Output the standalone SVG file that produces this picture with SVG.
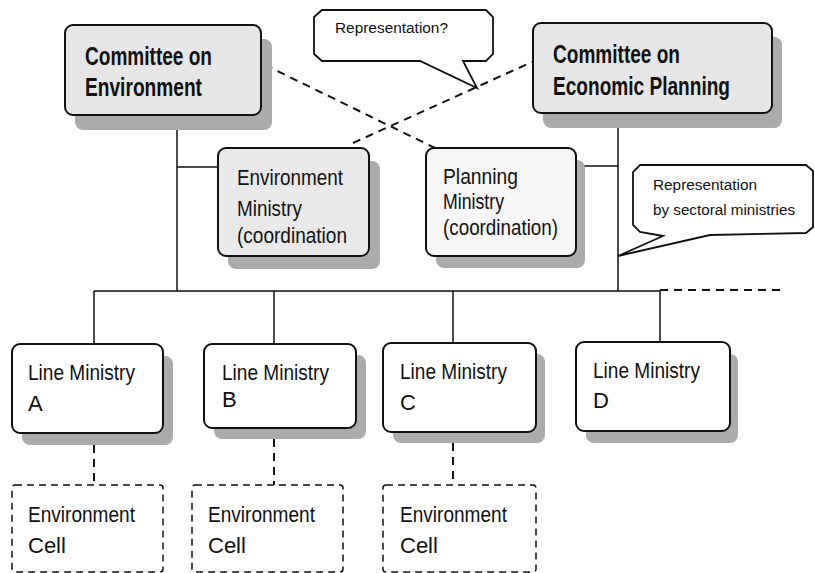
<svg xmlns="http://www.w3.org/2000/svg" width="815" height="573" viewBox="0 0 815 573">
<style>
text{font-family:"Liberation Sans",Arial,sans-serif;fill:#111}
.cm{font-size:25px;font-weight:bold}
.md{font-size:22px}
.sm{font-size:14px}
.sh{fill:#ababab}
.box{stroke:#111;stroke-width:2}
.ln{stroke:#111;stroke-width:1.5;fill:none}
.dl{stroke:#111;stroke-width:2;fill:none;stroke-dasharray:8 6}
.dc{stroke:#111;stroke-width:1.5;fill:#fff;stroke-dasharray:7 5}
</style>
<rect width="815" height="573" fill="#fff"/>
<g id="connectors">
<path class="ln" d="M177,115 L177,291 M177,167 L218,167 M618,113 L618,291 M576,166 L618,166 M94,291 L660,291 M94,291 L94,344 M274,291 L274,344 M453,291 L453,343 M660,291 L660,342"/>
<path class="dl" d="M660,290 L785,290" stroke-width="1.5"/>
<path class="dl" d="M265,65 L435,148 M353,143 L532,62"/>
<path class="dl" d="M94,445 L94,485 M274,439 L274,485 M453,443 L453,485" stroke-width="1.5"/>
</g>
<g id="committee-env">
<rect class="sh" x="75" y="39" width="197" height="91" rx="8"/>
<rect class="box" x="65" y="25" width="196" height="90" rx="8" fill="#e6e6e6" stroke-width="3.5"/>
<text class="cm" x="85" y="65" textLength="127" lengthAdjust="spacingAndGlyphs">Committee on</text>
<text class="cm" x="85" y="96" textLength="117" lengthAdjust="spacingAndGlyphs">Environment</text>
</g>
<g id="committee-econ">
<rect class="sh" x="543" y="37" width="239" height="91" rx="8"/>
<rect class="box" x="533" y="23" width="239" height="90" rx="8" fill="#e6e6e6" stroke-width="3.5"/>
<text class="cm" x="553" y="63" textLength="127" lengthAdjust="spacingAndGlyphs">Committee on</text>
<text class="cm" x="553" y="95" textLength="177" lengthAdjust="spacingAndGlyphs">Economic Planning</text>
</g>
<g id="env-ministry">
<rect class="sh" x="228" y="161" width="152" height="108" rx="8"/>
<rect class="box" x="218" y="148" width="151" height="108" rx="8" fill="#e9e9e9" stroke-width="2.5"/>
<text class="md" x="237" y="185" textLength="106" lengthAdjust="spacingAndGlyphs">Environment</text>
<text class="md" x="237" y="216" textLength="65" lengthAdjust="spacingAndGlyphs">Ministry</text>
<text class="md" x="237" y="243" textLength="110" lengthAdjust="spacingAndGlyphs">(coordination</text>
</g>
<g id="planning-ministry">
<rect class="sh" x="436" y="160" width="149" height="108" rx="8"/>
<rect class="box" x="426" y="148" width="150" height="108" rx="8" fill="#f6f6f6" stroke-width="1.5"/>
<text class="md" x="443" y="184" textLength="75" lengthAdjust="spacingAndGlyphs">Planning</text>
<text class="md" x="443" y="209" textLength="61" lengthAdjust="spacingAndGlyphs">Ministry</text>
<text class="md" x="443" y="235" textLength="115" lengthAdjust="spacingAndGlyphs">(coordination)</text>
</g>
<g id="callout-representation">
<path d="M322,10 L486,10 L493,17 L493,54 L486,61 L463,61 L477,88 L420,61 L322,61 L314,54 L314,17 Z" fill="#fff" stroke="#111" stroke-width="1.8"/>
<text class="sm" x="335" y="33" textLength="113" lengthAdjust="spacingAndGlyphs">Representation?</text>
</g>
<g id="callout-sectoral">
<path d="M640,165 L806,165 L813,171 L813,227 L806,233 L710,235 L618,256 L663,236 L640,232 L633,225 L633,172 Z" fill="#fff" stroke="#111" stroke-width="1.8"/>
<text class="sm" x="653" y="190" textLength="104" lengthAdjust="spacingAndGlyphs">Representation</text>
<text class="sm" x="653" y="215" textLength="142" lengthAdjust="spacingAndGlyphs">by sectoral ministries</text>
</g>
<g id="line-ministry-a">
<rect class="sh" x="22" y="356" width="151" height="89" rx="8"/>
<rect class="box" x="12" y="344" width="151" height="89" rx="8" fill="#fff"/>
<text class="md" x="28" y="380" textLength="107" lengthAdjust="spacingAndGlyphs">Line Ministry</text>
<text class="md" x="28" y="411">A</text>
</g>
<g id="line-ministry-b">
<rect class="sh" x="214" y="355" width="152" height="84" rx="8"/>
<rect class="box" x="204" y="344" width="152" height="84" rx="8" fill="#fff"/>
<text class="md" x="222" y="380" textLength="107" lengthAdjust="spacingAndGlyphs">Line Ministry</text>
<text class="md" x="222" y="407">B</text>
</g>
<g id="line-ministry-c">
<rect class="sh" x="393" y="354" width="152" height="89" rx="8"/>
<rect class="box" x="383" y="343" width="153" height="89" rx="8" fill="#fff"/>
<text class="md" x="400" y="379" textLength="107" lengthAdjust="spacingAndGlyphs">Line Ministry</text>
<text class="md" x="400" y="410">C</text>
</g>
<g id="line-ministry-d">
<rect class="sh" x="586" y="354" width="152" height="89" rx="8"/>
<rect class="box" x="576" y="342" width="154" height="89" rx="8" fill="#fff"/>
<text class="md" x="593" y="378" textLength="107" lengthAdjust="spacingAndGlyphs">Line Ministry</text>
<text class="md" x="593" y="408">D</text>
</g>
<g id="env-cell-a">
<rect class="dc" x="12" y="485" width="151" height="87" rx="3"/>
<text class="md" x="28" y="522" textLength="107" lengthAdjust="spacingAndGlyphs">Environment</text>
<text class="md" x="28" y="553">Cell</text>
</g>
<g id="env-cell-b">
<rect class="dc" x="192" y="485" width="151" height="87" rx="3"/>
<text class="md" x="208" y="522" textLength="107" lengthAdjust="spacingAndGlyphs">Environment</text>
<text class="md" x="208" y="553">Cell</text>
</g>
<g id="env-cell-c">
<rect class="dc" x="383" y="485" width="153" height="87" rx="3"/>
<text class="md" x="400" y="522" textLength="107" lengthAdjust="spacingAndGlyphs">Environment</text>
<text class="md" x="400" y="553">Cell</text>
</g>
</svg>
